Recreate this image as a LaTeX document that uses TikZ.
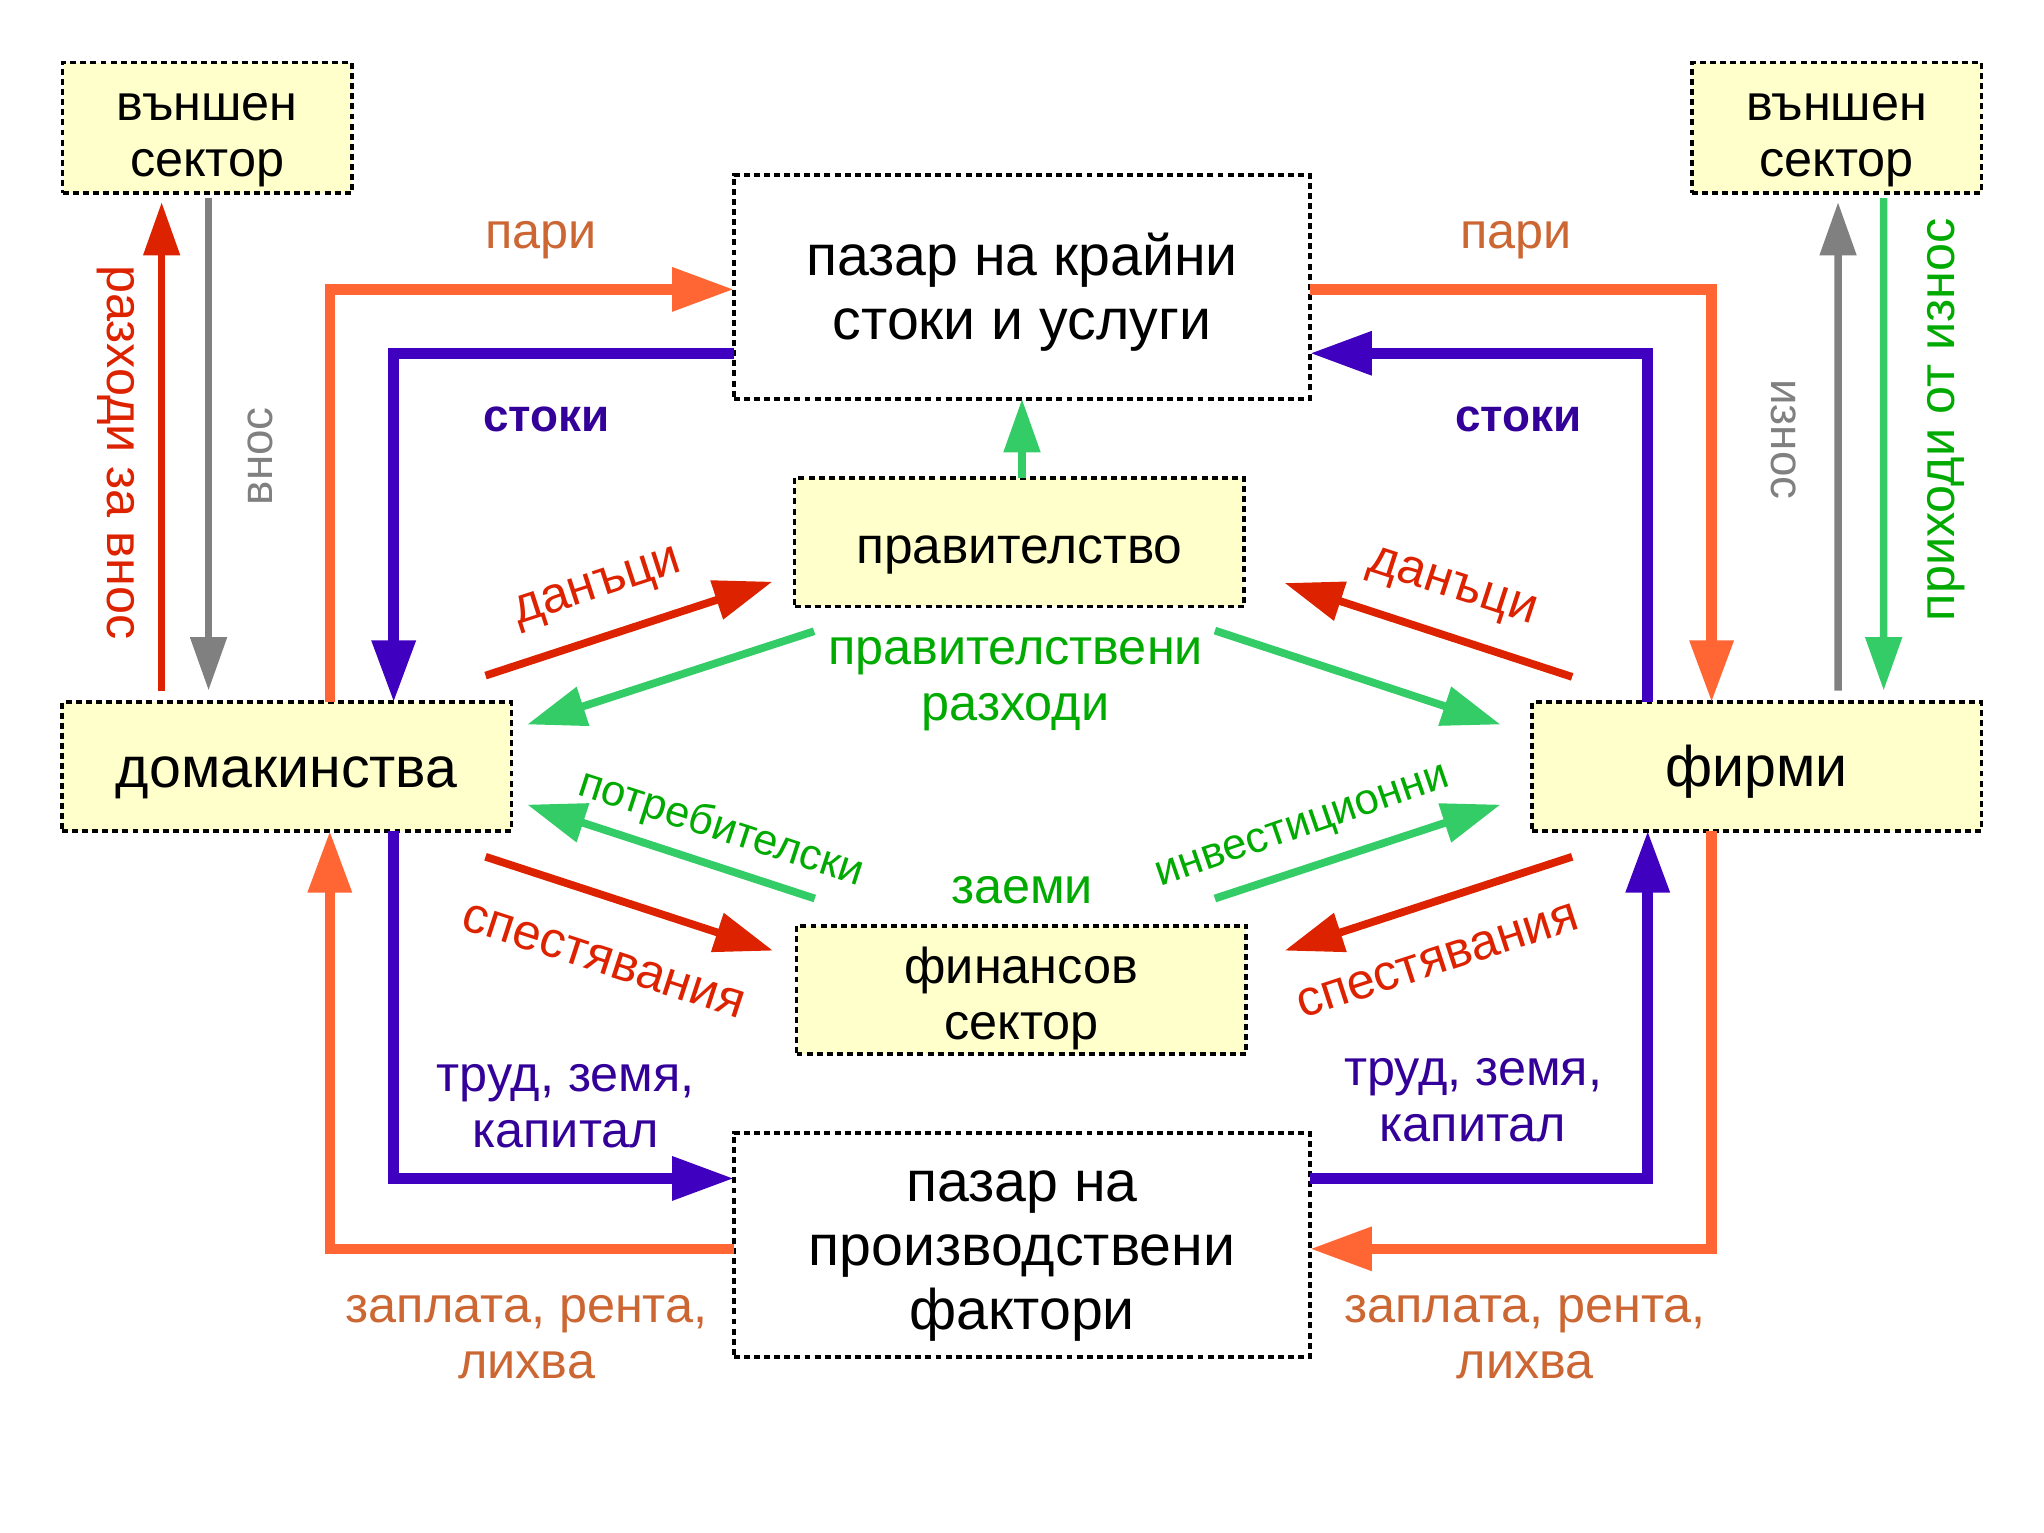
\documentclass[tikz,border=0pt]{standalone}
\usepackage{fontspec}
\setmainfont{Liberation Sans}
\usetikzlibrary{arrows.meta,positioning,calc}
\definecolor{boxYellow}{RGB}{255,255,204}
\definecolor{flowOrange}{RGB}{255,102,51}
\definecolor{textOrange}{RGB}{204,102,51}
\definecolor{flowPurple}{RGB}{64,0,192}
\definecolor{textPurple}{RGB}{51,0,153}
\definecolor{flowRed}{RGB}{221,34,0}
\definecolor{flowGreen}{RGB}{51,204,102}
\definecolor{textGreen}{RGB}{0,170,0}
\definecolor{flowGrey}{RGB}{128,128,128}
\newcommand{\boxlift}{\rule{0pt}{23pt}}
\tikzset{
	sector/.style={
		draw=black,
		dash pattern=on 2.6pt off 1.8pt,
		line width=1.6pt,
		align=center,
		inner sep=0pt,
		outer sep=0pt,
		font=\fontsize{25}{28}\selectfont
	},
	ysector/.style={sector, fill=boxYellow, minimum width=6.9cm, minimum height=1.97cm},
	extsector/.style={sector, fill=boxYellow, minimum width=4.44cm, minimum height=2cm, font=\fontsize{22}{24.5}\selectfont},
	market/.style={sector, fill=white, minimum width=8.84cm, minimum height=3.44cm},
	flow/.style={-{Triangle[length=0.95cm, width=0.64cm]}, line width=4.6pt},
	sideflow/.style={-{Triangle[length=0.82cm, width=0.54cm]}, line width=3.3pt},
	slant/.style={-{Triangle[length=0.9cm, width=0.6cm]}, line width=3.4pt},
	lbl/.style={font=\fontsize{22}{24.5}\selectfont, align=center, inner sep=0pt}
}
\begin{document}
\begin{tikzpicture}[x=0.02cm, y=-0.02cm]
	\useasboundingbox (0,0) rectangle (1568,1176);
	% sectors and markets
	\node[extsector] (extL) at (159,98) {\boxlift външен\\сектор};
	\node[extsector] (extR) at (1409,98) {\boxlift външен\\сектор};
	\node[market] (mkt) at (784,220) {\boxlift пазар на крайни\\стоки и услуги};
	\node[ysector, font=\fontsize{22.5}{26}\selectfont] (gov) at (782,416) {\boxlift правителство};
	\node[ysector] (hh) at (220,588) {\boxlift домакинства};
	\node[ysector] (firms) at (1347.5,588) {\boxlift фирми};
	\node[ysector, font=\fontsize{22}{24.5}\selectfont] (fin) at (783.5,759.5) {\boxlift финансов\\сектор};
	\node[market] (fac) at (784,955) {\boxlift пазар на\\производствени\\фактори};

	% goods and money
	\draw[flow, flowOrange] ([shift={(33,0)}]hh.north) |- ([shift={(0,2)}]mkt.west);
	\draw[flow, flowPurple] ([shift={(0,51)}]mkt.west) -| ([shift={(82,0)}]hh.north);
	\draw[flow, flowOrange] ([shift={(0,2)}]mkt.east) -| ([shift={(-34.5,0)}]firms.north);
	\draw[flow, flowPurple] ([shift={(-83.5,0)}]firms.north) |- ([shift={(0,51)}]mkt.east);
	\draw[flow, flowPurple] ([shift={(82,0)}]hh.south) |- ([shift={(0,-51)}]fac.west);
	\draw[flow, flowPurple] ([shift={(0,-51)}]fac.east) -| ([shift={(-83.5,0)}]firms.south);
	\draw[flow, flowOrange] ([shift={(0,3)}]fac.west) -| ([shift={(33,0)}]hh.south);
	\draw[flow, flowOrange] ([shift={(-34.5,0)}]firms.south) |- ([shift={(0,3)}]fac.east);
	\node[lbl, text=textOrange] (pariL) at (415,184) {пари};
	\node[lbl, text=textOrange] (pariR) at (1163,184) {пари};
	\node[lbl, text=textPurple, font=\fontsize{20}{24}\selectfont\bfseries] (stokiL) at (419,322) {стоки};
	\node[lbl, text=textPurple, font=\fontsize{20}{24}\selectfont\bfseries] (stokiR) at (1165,322) {стоки};
	\node[lbl, text=textPurple] (trudL) at (434,848.5) {труд, земя,\\капитал};
	\node[lbl, text=textPurple] (trudR) at (1130,844) {труд, земя,\\капитал};
	\node[lbl, text=textOrange] (zaplL) at (404,1026) {заплата, рента,\\лихва};
	\node[lbl, text=textOrange] (zaplR) at (1170,1026) {заплата, рента,\\лихва};

	% foreign sector
	\draw[sideflow, flowRed] ([shift={(-96,-9)}]hh.north) -- ([shift={(-35,7)}]extL.south);
	\draw[sideflow, flowGrey] ([shift={(1,4)}]extL.south) -- ([shift={(-60,-9)}]hh.north);
	\draw[sideflow, flowGrey] ([shift={(62.5,-9)}]firms.north) -- ([shift={(1,7)}]extR.south);
	\draw[sideflow, flowGreen] ([shift={(36,4)}]extR.south) -- ([shift={(97.5,-9)}]firms.north);
	\node[lbl, text=flowRed, rotate=-90] (importSp) at (89,347) {разходи за внос};
	\node[lbl, text=flowGrey, font=\fontsize{20}{24}\selectfont, rotate=90] (importL) at (200,350) {внос};
	\node[lbl, text=flowGrey, font=\fontsize{20}{24}\selectfont, rotate=-90] (exportL) at (1368,337) {износ};
	\node[lbl, text=textGreen, rotate=90] (exportInc) at (1493,322) {приходи от износ};

	% government and finance
	\draw[sideflow, flowGreen] (gov.north -| mkt.south) -- (mkt.south);
	\draw[slant, flowRed] ([shift={(-20,-20.5)}]hh.north east) -- ([shift={(-17,-19)}]gov.south west);
	\draw[slant, flowGreen] ([shift={(15,19)}]gov.south west) -- ([shift={(12,17)}]hh.north east);
	\draw[slant, flowGreen] ([shift={(-22.5,18.5)}]gov.south east) -- ([shift={(-24,17)}]firms.north west);
	\draw[slant, flowRed] ([shift={(31,-19.5)}]firms.north west) -- ([shift={(31,-18)}]gov.south east);
	\draw[slant, flowGreen] ([shift={(14,-21)}]fin.north west) -- ([shift={(12,-20)}]hh.south east);
	\draw[slant, flowGreen] ([shift={(-24,-21)}]fin.north east) -- ([shift={(-24,-20)}]firms.south west);
	\draw[slant, flowRed] ([shift={(-20,20)}]hh.south east) -- ([shift={(-18,19)}]fin.north west);
	\draw[slant, flowRed] ([shift={(31,20)}]firms.south west) -- ([shift={(29.5,19)}]fin.north east);
	\node[lbl, text=flowRed, rotate=18] (taxL) at (459,452) {данъци};
	\node[lbl, text=flowRed, rotate=-18] (taxR) at (1114,452) {данъци};
	\node[lbl, text=textGreen] (govSp) at (779,525) {правителствени\\разходи};
	\node[lbl, text=textGreen, font=\fontsize{19}{22}\selectfont, rotate=-18] (consL) at (553,636) {потребителски};
	\node[lbl, text=textGreen, font=\fontsize{19}{22}\selectfont, rotate=19] (invL) at (1000,636) {инвестиционни};
	\node[lbl, text=textGreen] (loans) at (784,683) {заеми};
	\node[lbl, text=flowRed, rotate=-18] (savL) at (463,737) {спестявания};
	\node[lbl, text=flowRed, rotate=18] (savR) at (1103,737) {спестявания};
\end{tikzpicture}
\end{document}
